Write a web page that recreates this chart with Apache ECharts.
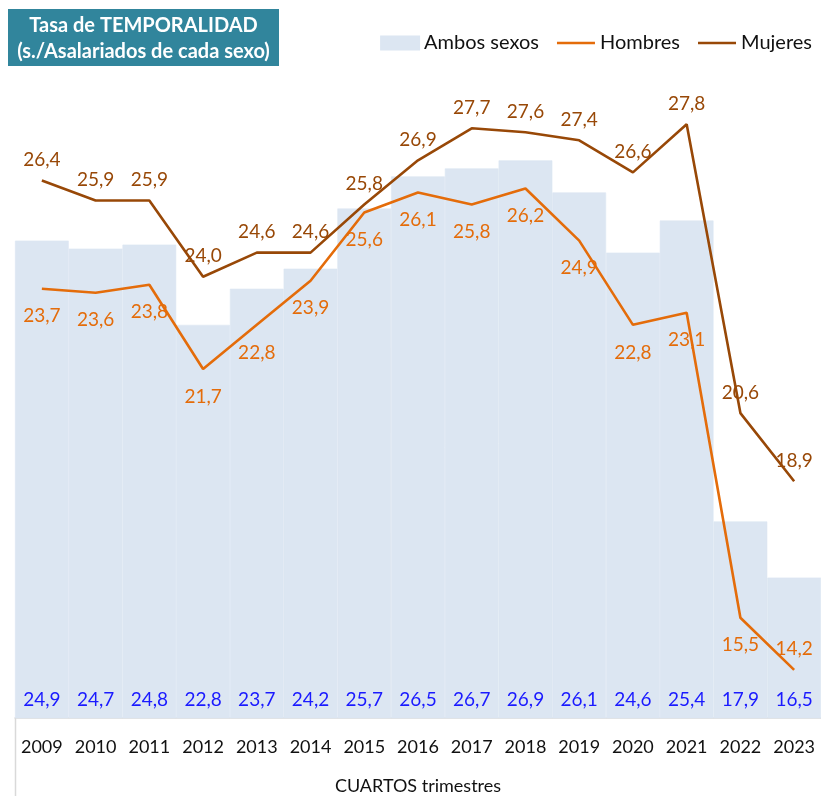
<!DOCTYPE html>
<html>
<head>
<meta charset="utf-8">
<script src="https://cdn.jsdelivr.net/npm/echarts@6/dist/echarts.min.js"></script>
<style>
  html, body { margin: 0; padding: 0; background: #fff; }
  #chart { width: 821px; height: 796px; }
</style>
</head>
<body>
<div id="chart"></div>
<script>
// Tasa de temporalidad, cuartos trimestres
const years = ['2009','2010','2011','2012','2013','2014','2015','2016','2017','2018','2019','2020','2021','2022','2023'];
const ambosSexos = [24.9, 24.7, 24.8, 22.8, 23.7, 24.2, 25.7, 26.5, 26.7, 26.9, 26.1, 24.6, 25.4, 17.9, 16.5];
const hombres    = [23.7, 23.6, 23.8, 21.7, 22.8, 23.9, 25.6, 26.1, 25.8, 26.2, 24.9, 22.8, 23.1, 15.5, 14.2];
const mujeres    = [26.4, 25.9, 25.9, 24.0, 24.6, 24.6, 25.8, 26.9, 27.7, 27.6, 27.4, 26.6, 27.8, 20.6, 18.9];

const FONT = 'Lato';
const fmt = v => v.toFixed(1).replace('.', ',');
const LINE_ICON = 'path://M0,0 L40,0 L40,2.6 L0,2.6 Z';

const C_BAR = '#dce6f2';
const C_H = '#e46c0a';
const C_M = '#984807';

const chart = echarts.init(document.getElementById('chart'));

// Hombres labels sit below the line, except the last point
const hombresData = hombres.map((v, i) => i === hombres.length - 1
  ? { value: v, label: { position: 'top', distance: 11 } }
  : v);

chart.setOption({
  animation: false,
  textStyle: { fontFamily: FONT },
  grid: { left: 15, right: 0, top: 36, bottom: 78, outerBoundsMode: 'none', containLabel: false },
  legend: {
    right: 4, top: 28,
    itemGap: 18, itemWidth: 38, itemHeight: 13,
    textStyle: { fontSize: 20, color: '#111', fontFamily: FONT },
    data: [
      { name: 'Ambos sexos', icon: 'rect' },
      { name: 'Hombres', icon: LINE_ICON },
      { name: 'Mujeres', icon: LINE_ICON }
    ]
  },
  xAxis: {
    type: 'category',
    data: years,
    boundaryGap: true,
    axisTick: { show: false },
    axisLine: { lineStyle: { color: '#d9d9d9', width: 1.5 } },
    axisLabel: { color: '#111', fontSize: 18, margin: 20, interval: 0, fontFamily: FONT },
    name: 'CUARTOS trimestres',
    nameLocation: 'middle',
    nameGap: 59,
    nameTextStyle: { color: '#111', fontSize: 18, fontFamily: FONT }
  },
  yAxis: {
    type: 'value', min: 13, max: 30, show: false,
    splitLine: { show: false }
  },
  series: [
    {
      name: 'Ambos sexos', type: 'bar',
      data: ambosSexos,
      barCategoryGap: '0%',
      itemStyle: { color: C_BAR, borderColor: C_BAR, borderWidth: 0.6 },
      label: {
        show: true, position: 'insideBottom', distance: 9,
        color: '#1a1aff', fontSize: 19, fontFamily: FONT,
        formatter: p => fmt(p.value)
      },
      z: 1
    },
    {
      name: 'Hombres', type: 'line',
      data: hombresData,
      symbol: 'circle', symbolSize: 0.1, showSymbol: true, showAllSymbol: true,
      lineStyle: { color: C_H, width: 2.6 },
      itemStyle: { color: C_H },
      label: {
        show: true, position: 'bottom', distance: 18,
        color: C_H, fontSize: 19, fontFamily: FONT,
        formatter: p => fmt(p.value)
      },
      emphasis: { disabled: true },
      z: 3
    },
    {
      name: 'Mujeres', type: 'line',
      data: mujeres,
      symbol: 'circle', symbolSize: 0.1, showSymbol: true, showAllSymbol: true,
      lineStyle: { color: C_M, width: 2.6 },
      itemStyle: { color: C_M },
      label: {
        show: true, position: 'top', distance: 11,
        color: C_M, fontSize: 19, fontFamily: FONT,
        formatter: p => fmt(p.value)
      },
      emphasis: { disabled: true },
      z: 4
    }
  ],
  graphic: [
    {
      type: 'rect', left: 8, top: 9,
      shape: { width: 271, height: 57 },
      style: { fill: '#31859c' }
    },
    {
      type: 'text', x: 143.5, y: 13,
      style: {
        text: 'Tasa de TEMPORALIDAD\n(s./Asalariados de cada sexo)',
        fill: '#fff', font: 'bold 20px ' + FONT,
        align: 'center', lineHeight: 26
      }
    },
    {
      type: 'line',
      shape: { x1: 15.5, y1: 718, x2: 15.5, y2: 796 },
      style: { stroke: '#d9d9d9', lineWidth: 1.5 }
    }
  ]
});
</script>
</body>
</html>
